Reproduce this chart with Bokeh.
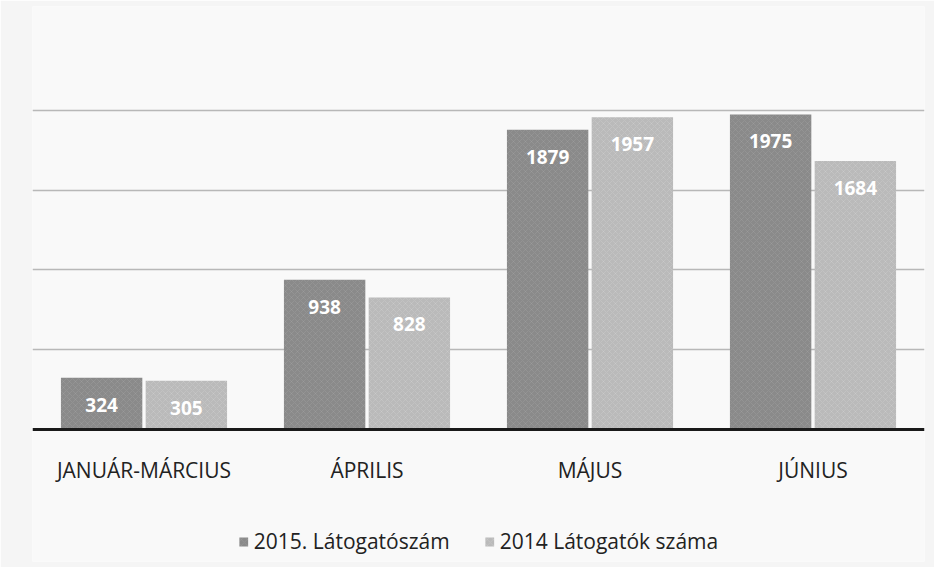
from bokeh.plotting import figure
from bokeh.models import ColumnDataSource, LabelSet, Legend, LegendItem, FixedTicker, Range1d, Span
from bokeh.transform import dodge
from bokeh.core.properties import value
from bokeh.embed import file_html
from bokeh.resources import INLINE

categories = ["JANUÁR-MÁRCIUS", "ÁPRILIS", "MÁJUS", "JÚNIUS"]
series_2015 = [324, 938, 1879, 1975]
series_2014 = [305, 828, 1957, 1684]
series_names = ["2015. Látogatószám", "2014 Látogatók száma"]
grid_ticks = [500, 1000, 1500, 2000]

src = ColumnDataSource(dict(
    cat=categories,
    v15=series_2015,
    v14=series_2014,
    t15=[str(v) for v in series_2015],
    t14=[str(v) for v in series_2014],
))

FONT = "Open Sans"
# frame: 892 x 555 px; baseline (0) sits 132 px above the frame bottom
p = figure(x_range=categories, y_range=Range1d(-828, 2652), width=934, height=567,
           output_backend="svg", toolbar_location=None,
           min_border_left=32, min_border_right=10, min_border_top=6, min_border_bottom=6)
p.background_fill_color = "#f9f9f9"
p.border_fill_color = "#f5f5f5"
p.outline_line_color = None
p.xaxis.visible = False
p.yaxis.visible = False

p.ygrid.ticker = FixedTicker(ticks=grid_ticks)
p.ygrid.grid_line_color = "#b8b8b8"
p.ygrid.grid_line_width = 1.5
p.xgrid.grid_line_color = None

r15 = p.vbar(x=dodge("cat", -0.19, range=p.x_range), top="v15", width=0.365, source=src,
             fill_color="#8a8a8a", line_color=None,
             hatch_pattern="diagonal_cross", hatch_color="#ffffff", hatch_alpha=0.08, hatch_scale=6)
r14 = p.vbar(x=dodge("cat", 0.19, range=p.x_range), top="v14", width=0.365, source=src,
             fill_color="#bababa", line_color=None,
             hatch_pattern="diagonal_cross", hatch_color="#ffffff", hatch_alpha=0.12, hatch_scale=6)

p.add_layout(Span(location=0, dimension="width", line_color="#1a1a1a", line_width=3))

for col, tcol, off in [("v15", "t15", -0.19), ("v14", "t14", 0.19)]:
    p.add_layout(LabelSet(x=dodge("cat", off, range=p.x_range), y=col, text=tcol, source=src,
                          y_offset=-27, text_align="center", text_baseline="middle",
                          text_color="white", text_font=value(FONT), text_font_size="19px",
                          text_font_style="bold"))

# category labels under the baseline
p.add_layout(LabelSet(x="cat", y=0, text="cat", source=src, y_offset=-41,
                      text_align="center", text_baseline="middle",
                      text_color="#222222", text_font=value(FONT), text_font_size="21px"))

legend = Legend(items=[LegendItem(label=series_names[0], renderers=[r15]),
                       LegendItem(label=series_names[1], renderers=[r14])],
                orientation="horizontal", location="bottom_center",
                label_text_font=FONT, label_text_font_size="21px", label_text_color="#222222",
                glyph_width=11, glyph_height=11, spacing=34, margin=6, padding=5,
                background_fill_alpha=0, border_line_color=None)
p.add_layout(legend, "center")

open("out.html", "w").write(file_html(p, INLINE))
